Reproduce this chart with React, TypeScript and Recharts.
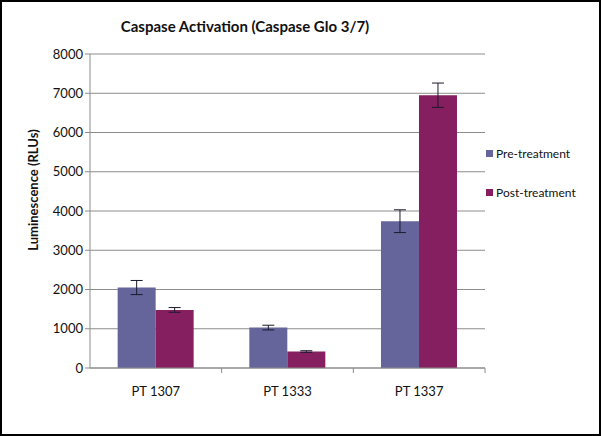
import { BarChart, Bar, XAxis, YAxis, CartesianGrid, ErrorBar } from "recharts";

// ── Data ────────────────────────────────────────────────────────────────────
const patients = ["PT 1307", "PT 1333", "PT 1337"];
const preTreatment = [2050, 1030, 3740];
const preTreatmentErr = [180, 60, 290];
const postTreatment = [1480, 420, 6950];
const postTreatmentErr = [60, 20, 310];
const yTicks = [0, 1000, 2000, 3000, 4000, 5000, 6000, 7000, 8000];

const series = [
  { key: "pre", err: "preErr", name: "Pre-treatment", color: "#65659b" },
  { key: "post", err: "postErr", name: "Post-treatment", color: "#861f5f" },
];

const data = patients.map((p, i) => ({
  name: p,
  pre: preTreatment[i],
  preErr: preTreatmentErr[i],
  post: postTreatment[i],
  postErr: postTreatmentErr[i],
}));

const FONT = "Lato, 'Open Sans', sans-serif";
const GRID = "#8c8c8c";
const TICK_SIZE = 5;
const TICK_MARGIN = 14;

// Excel puts the category tick marks on the band boundaries, not the centres
const CategoryTick = (props: {
  x?: number;
  y?: number;
  payload?: { value: string; offset?: number };
}) => {
  const { x = 0, y = 0, payload } = props;
  if (!payload) return null;
  const half = payload.offset ?? 0;
  const axisY = y - TICK_SIZE - TICK_MARGIN;
  return (
    <g>
      <line x1={x + half} x2={x + half} y1={axisY} y2={axisY + TICK_SIZE} stroke={GRID} />
      <text
        x={x}
        y={y}
        dy="0.71em"
        textAnchor="middle"
        fontSize={13}
        fontFamily={FONT}
        fill="#111"
      >
        {payload.value}
      </text>
    </g>
  );
};

const App = () => {
  return (
    <div
      style={{
        position: "absolute",
        left: 0,
        top: 0,
        width: 601,
        height: 436,
        background: "#fff",
        fontFamily: FONT,
      }}
    >
      <BarChart
        width={601}
        height={436}
        data={data}
        margin={{ top: 54, right: 116, bottom: 38, left: 10 }}
        barCategoryGap="21%"
        barGap={0}
      >
        <CartesianGrid vertical={false} stroke={GRID} />
        <XAxis
          dataKey="name"
          height={30}
          stroke={GRID}
          tickLine={false}
          tickSize={TICK_SIZE}
          tickMargin={TICK_MARGIN}
          tick={<CategoryTick />}
        />
        <YAxis
          width={80}
          domain={[0, 8000]}
          ticks={yTicks}
          stroke={GRID}
          tickSize={5}
          tick={{ fontSize: 13, fill: "#111", fontFamily: FONT }}
          label={{
            content: () => (
              <text
                x={33}
                y={190}
                transform="rotate(-90 33 190)"
                textAnchor="middle"
                dominantBaseline="central"
                fontSize={13}
                fontWeight="bold"
                fontFamily={FONT}
                fill="#111"
              >
                Luminescence (RLUs)
              </text>
            ),
          }}
        />
        {series.map((s) => (
          <Bar
            key={s.key}
            dataKey={s.key}
            name={s.name}
            fill={s.color}
            isAnimationActive={false}
          >
            <ErrorBar
              dataKey={s.err}
              width={6}
              stroke="#1a1a2e"
              strokeWidth={1}
              isAnimationActive={false}
            />
          </Bar>
        ))}
      </BarChart>

      {/* title */}
      <div
        style={{
          position: "absolute",
          left: 0,
          width: 490,
          top: 17,
          textAlign: "center",
          fontSize: 15,
          fontWeight: "bold",
          color: "#111",
        }}
      >
        Caspase Activation (Caspase Glo 3/7)
      </div>

      {/* legend */}
      <div style={{ position: "absolute", left: 486, top: 145, fontSize: 12, color: "#111" }}>
        {series.map((s) => (
          <div key={s.key} style={{ display: "flex", alignItems: "center", height: 16, marginBottom: 23 }}>
            <span style={{ width: 7, height: 7, background: s.color, marginRight: 3, display: "inline-block" }} />
            {s.name}
          </div>
        ))}
      </div>

      {/* outer frame */}
      <div
        style={{
          position: "absolute",
          inset: 0,
          border: "2px solid #000",
          pointerEvents: "none",
        }}
      />
    </div>
  );
};

export default App;
